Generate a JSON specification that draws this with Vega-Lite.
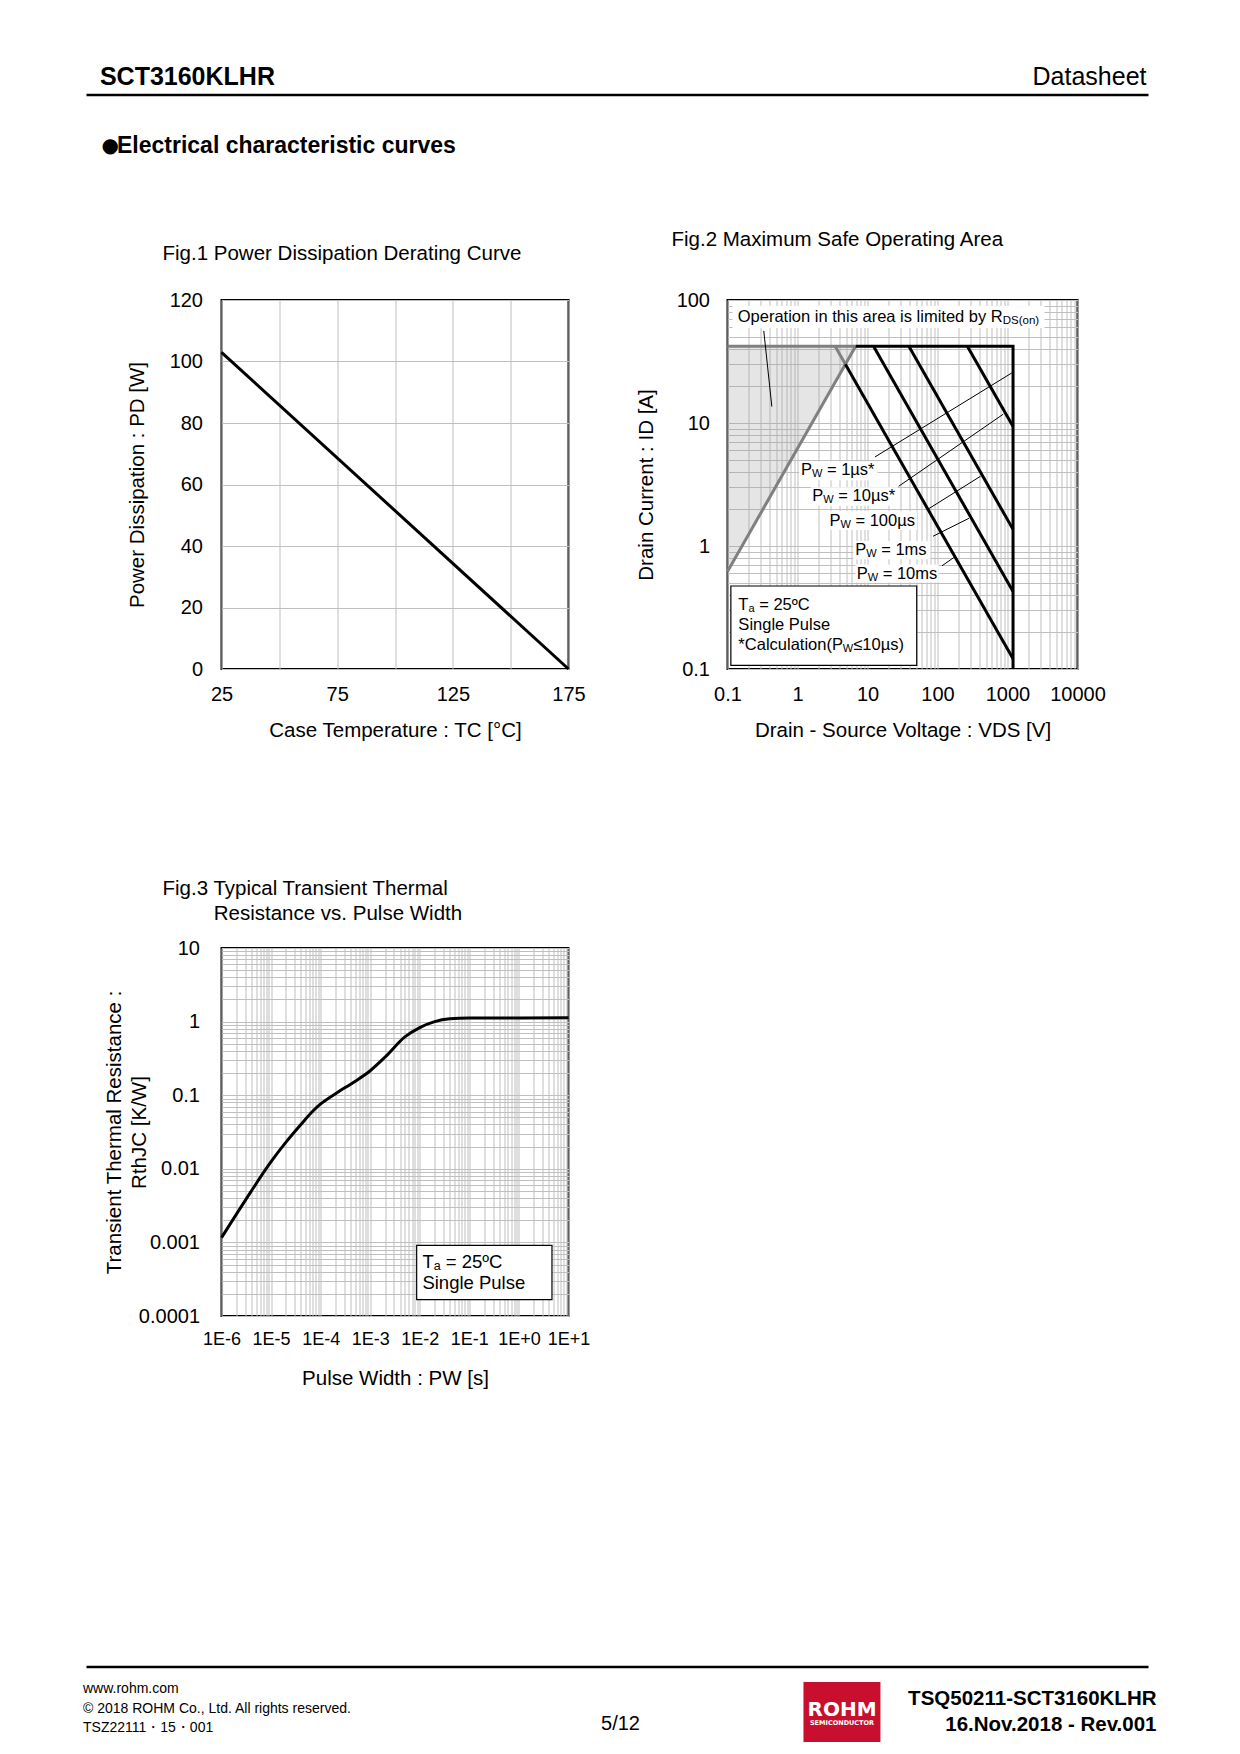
{
  "$schema": "https://vega.github.io/schema/vega-lite/v6.json",
  "usermeta": {"embedOptions": {"actions": false}},
  "background": "white",
  "padding": {"left": 82.5, "top": 65, "right": 0, "bottom": 0},
  "config": {
    "font": "Liberation Sans",
    "view": {"stroke": null},
    "axis": {"ticks": false, "domain": false, "labelColor": "#000000", "titleColor": "#000000", "titleFontWeight": "normal", "labelFontSize": 20, "titleFontSize": 20.5, "gridColor": "#bfbfbf", "gridWidth": 1, "gridOpacity": 1, "labelOverlap": false, "labelFlush": false, "labelFont": "Liberation Sans", "titleFont": "Liberation Sans"},
    "title": {"fontWeight": "normal", "color": "#000000", "fontSize": 20.5, "anchor": "start", "frame": "group", "font": "Liberation Sans"},
    "text": {"font": "Liberation Sans", "color": "#000000"}
  },
  "datasets": {
    "soaText": [
      {"g": "O", "v": 0.14, "i": 72.6, "a": "Operation in this area is limited by R", "s": "DS(on)", "b": ""},
      {"g": "P", "v": 1.12, "i": 4.13, "a": "P", "s": "W", "b": "= 1µs*"},
      {"g": "P", "v": 1.63, "i": 2.54, "a": "P", "s": "W", "b": "= 10µs*"},
      {"g": "P", "v": 2.86, "i": 1.59, "a": "P", "s": "W", "b": "= 100µs"},
      {"g": "P", "v": 6.67, "i": 0.921, "a": "P", "s": "W", "b": "= 1ms"},
      {"g": "P", "v": 7.0, "i": 0.592, "a": "P", "s": "W", "b": "= 10ms"},
      {"g": "T", "v": 0.143, "i": 0.33, "a": "T", "s": "a", "b": "= 25ºC"},
      {"g": "-", "v": 0.143, "i": 0.23, "a": "Single Pulse", "s": "", "b": ""},
      {"g": "C", "v": 0.143, "i": 0.156, "a": "*Calculation(P", "s": "W", "b": "≤10µs)"}
    ],
    "fig3Text": [
      {"g": "T", "p": 0.0113, "r": 0.00055, "a": "T", "s": "a", "b": "= 25ºC"},
      {"g": "-", "p": 0.0113, "r": 0.00028, "a": "Single Pulse", "s": "", "b": ""}
    ]
  },
  "spacing": 0,
  "bounds": "full",
  "vconcat": [
    {
      "width": 1062, "height": 133.5,
      "data": {"values": [
        {"item": "part", "label": "SCT3160KLHR"},
        {"item": "doc", "label": "Datasheet"},
        {"item": "bullet", "label": "●"},
        {"item": "section", "label": "Electrical characteristic curves"}
      ]},
      "layer": [
        {"data": {"values": [{"item": "header line"}]},
         "mark": {"type": "rule", "strokeWidth": 2.5, "color": "#000000"},
         "encoding": {"x": {"datum": 0, "scale": {"domain": [0, 1]}, "axis": null}, "x2": {"datum": 1}, "y": {"datum": 1, "scale": {"domain": [0, 1]}, "axis": null}}},
        {"transform": [{"filter": "datum.item === 'part'"}],
         "mark": {"type": "text", "align": "left", "baseline": "alphabetic", "dx": 13.4, "dy": -10, "fontSize": 25, "fontWeight": "bold"},
         "encoding": {"x": {"datum": 0, "axis": null}, "y": {"datum": 1, "axis": null}, "text": {"field": "label"}}},
        {"transform": [{"filter": "datum.item === 'doc'"}],
         "mark": {"type": "text", "align": "right", "baseline": "alphabetic", "dx": -2, "dy": -10, "fontSize": 25},
         "encoding": {"x": {"datum": 1, "axis": null}, "y": {"datum": 1, "axis": null}, "text": {"field": "label"}}},
        {"transform": [{"filter": "datum.item === 'bullet'"}],
         "mark": {"type": "text", "align": "left", "baseline": "alphabetic", "dx": 15, "dy": 57, "fontSize": 20, "font": "DejaVu Sans"},
         "encoding": {"x": {"datum": 0, "axis": null}, "y": {"datum": 1, "axis": null}, "text": {"field": "label"}}},
        {"transform": [{"filter": "datum.item === 'section'"}],
         "mark": {"type": "text", "align": "left", "baseline": "alphabetic", "dx": 30.5, "dy": 58, "fontSize": 23, "fontWeight": "bold"},
         "encoding": {"x": {"datum": 0, "axis": null}, "y": {"datum": 1, "axis": null}, "text": {"field": "label"}}}
      ]
    },
    {
      "spacing": 0,
      "bounds": "flush",
      "hconcat": [
        {"width": 135, "height": 1016, "data": {"values": []}, "mark": "point"},
        {
          "columns": 2,
          "spacing": {"row": 279, "column": 159},
          "bounds": "flush",
          "concat": [
            {
              "width": 347, "height": 369,
              "view": {"stroke": "#000000", "strokeWidth": 2},
              "title": {"text": "Fig.1 Power Dissipation Derating Curve", "dx": -59, "offset": 25.5},
              "data": {"values": [{"tc": 25, "pd": 103}, {"tc": 175, "pd": 0}]},
              "mark": {"type": "line", "color": "#000000", "strokeWidth": 3},
              "encoding": {
                "x": {"field": "tc", "type": "quantitative", "scale": {"domain": [25, 175], "nice": false, "zero": false},
                      "axis": {"values": [25, 50, 75, 100, 125, 150, 175], "labelExpr": "datum.value % 50 == 25 ? datum.label : ''", "title": "Case Temperature : TC [°C]", "labelPadding": 15, "titlePadding": 16}},
                "y": {"field": "pd", "type": "quantitative", "scale": {"domain": [0, 120], "nice": false},
                      "axis": {"values": [0, 20, 40, 60, 80, 100, 120], "title": "Power Dissipation : PD [W]", "labelPadding": 19, "titlePadding": 21.4}}
              }
            },
            {
              "width": 350, "height": 369,
              "view": {"stroke": "#000000", "strokeWidth": 2},
              "title": {"text": "Fig.2 Maximum Safe Operating Area", "dx": -56, "offset": 39.5},
              "encoding": {
                "x": {"field": "v", "type": "quantitative", "scale": {"type": "log", "domain": [0.1, 10000], "nice": false},
                      "axis": {"values": [0.1,0.2,0.3,0.4,0.5,0.6,0.7,0.8,0.9,1,2,3,4,5,6,7,8,9,10,20,30,40,50,60,70,80,90,100,200,300,400,500,600,700,800,900,1000,2000,3000,4000,5000,6000,7000,8000,9000,10000],
                               "format": "~g", "labelExpr": "abs(log(datum.value)/LN10 - round(log(datum.value)/LN10)) < 0.001 ? datum.label : ''",
                               "title": "Drain - Source Voltage : VDS [V]", "labelPadding": 15, "titlePadding": 16}},
                "y": {"field": "i", "type": "quantitative", "scale": {"type": "log", "domain": [0.1, 100], "nice": false},
                      "axis": {"values": [0.1,0.2,0.3,0.4,0.5,0.6,0.7,0.8,0.9,1,2,3,4,5,6,7,8,9,10,20,30,40,50,60,70,80,90,100],
                               "format": "~g", "labelExpr": "abs(log(datum.value)/LN10 - round(log(datum.value)/LN10)) < 0.001 ? datum.label : ''",
                               "title": "Drain Current : ID [A]", "labelPadding": 18, "titlePadding": 19.4}}
              },
              "layer": [
                {"data": {"values": [{"v": 0.1, "i": 0.62, "i2": 42}, {"v": 6.77, "i": 42, "i2": 42}]},
                 "mark": {"type": "area", "color": "#999999", "opacity": 0.25},
                 "encoding": {"y2": {"field": "i2"}}},
                {"data": {"values": [
                  {"box": "RDS(on) note", "v": 0.118, "v2": 3380, "i": 59.2, "i2": 89.4},
                  {"box": "1us", "v": 1.06, "v2": 13.9, "i": 3.43, "i2": 4.87},
                  {"box": "10us", "v": 1.55, "v2": 27, "i": 2.12, "i2": 3.0},
                  {"box": "100us", "v": 2.71, "v2": 51, "i": 1.35, "i2": 1.92},
                  {"box": "1ms", "v": 6.3, "v2": 79, "i": 0.78, "i2": 1.10},
                  {"box": "10ms", "v": 6.7, "v2": 104, "i": 0.506, "i2": 0.706}
                 ]},
                 "mark": {"type": "rect", "color": "#ffffff"},
                 "encoding": {"x2": {"field": "v2"}, "y2": {"field": "i2"}}},
                {"data": {"values": [{"box": "conditions", "v": 0.1117, "v2": 50.5, "i": 0.107, "i2": 0.473}]},
                 "mark": {"type": "rect", "fill": "#ffffff", "stroke": "#000000", "strokeWidth": 1.2},
                 "encoding": {"x2": {"field": "v2"}, "y2": {"field": "i2"}}},
                {"data": {"values": [
                  {"seg": "RDS(on) line", "kind": "RDS(on) limit", "k": 0, "v": 0.1, "i": 0.62},
                  {"seg": "RDS(on) line", "kind": "RDS(on) limit", "k": 1, "v": 6.77, "i": 42},
                  {"seg": "ID limit (RDS)", "kind": "RDS(on) limit", "k": 0, "v": 0.1, "i": 42},
                  {"seg": "ID limit (RDS)", "kind": "RDS(on) limit", "k": 1, "v": 6.77, "i": 42},
                  {"seg": "10ms (RDS)", "kind": "RDS(on) limit", "k": 0, "v": 3.45, "i": 42},
                  {"seg": "10ms (RDS)", "kind": "RDS(on) limit", "k": 1, "v": 4.83, "i": 30.0},
                  {"seg": "1us", "kind": "Pw limit", "k": 0, "v": 6.77, "i": 42},
                  {"seg": "1us", "kind": "Pw limit", "k": 1, "v": 1200, "i": 42},
                  {"seg": "1us", "kind": "Pw limit", "k": 2, "v": 1200, "i": 0.1},
                  {"seg": "10us", "kind": "Pw limit", "k": 0, "v": 267, "i": 42},
                  {"seg": "10us", "kind": "Pw limit", "k": 1, "v": 1200, "i": 9.35},
                  {"seg": "100us", "kind": "Pw limit", "k": 0, "v": 39, "i": 42},
                  {"seg": "100us", "kind": "Pw limit", "k": 1, "v": 1200, "i": 1.365},
                  {"seg": "1ms", "kind": "Pw limit", "k": 0, "v": 12.2, "i": 42},
                  {"seg": "1ms", "kind": "Pw limit", "k": 1, "v": 1200, "i": 0.427},
                  {"seg": "10ms", "kind": "Pw limit", "k": 0, "v": 4.83, "i": 30.0},
                  {"seg": "10ms", "kind": "Pw limit", "k": 1, "v": 1200, "i": 0.121}
                 ]},
                 "mark": {"type": "line", "strokeWidth": 3},
                 "encoding": {
                   "color": {"field": "kind", "type": "nominal", "scale": {"domain": ["Pw limit", "RDS(on) limit"], "range": ["#000000", "#808080"]}, "legend": null},
                   "detail": {"field": "seg"},
                   "order": {"field": "k", "type": "quantitative"}
                 }},
                {"data": {"values": [
                  {"lead": "RDS(on)", "v": 0.33, "v2": 0.43, "i": 56, "i2": 13.6},
                  {"lead": "1us", "v": 12.8, "v2": 1150, "i": 5.3, "i2": 25.5},
                  {"lead": "10us", "v": 27.9, "v2": 871, "i": 3.06, "i2": 11.8},
                  {"lead": "100us", "v": 75, "v2": 412, "i": 2.01, "i2": 3.69},
                  {"lead": "1ms", "v": 86.5, "v2": 281, "i": 1.2, "i2": 1.68},
                  {"lead": "10ms", "v": 116, "v2": 171, "i": 0.69, "i2": 0.806}
                 ]},
                 "mark": {"type": "rule", "color": "#000000", "strokeWidth": 1},
                 "encoding": {"x2": {"field": "v2"}, "y2": {"field": "i2"}}},
                {"data": {"name": "soaText"},
                 "mark": {"type": "text", "align": "left", "baseline": "middle", "fontSize": 16.5},
                 "encoding": {"text": {"field": "a"}}},
                {"data": {"name": "soaText"}, "transform": [{"filter": "datum.g === 'P'"}],
                 "mark": {"type": "text", "align": "left", "baseline": "middle", "fontSize": 11, "dx": 11, "dy": 4},
                 "encoding": {"text": {"field": "s"}}},
                {"data": {"name": "soaText"}, "transform": [{"filter": "datum.g === 'P'"}],
                 "mark": {"type": "text", "align": "left", "baseline": "middle", "fontSize": 16.5, "dx": 26},
                 "encoding": {"text": {"field": "b"}}},
                {"data": {"name": "soaText"}, "transform": [{"filter": "datum.g === 'T'"}],
                 "mark": {"type": "text", "align": "left", "baseline": "middle", "fontSize": 11, "dx": 10.1, "dy": 4},
                 "encoding": {"text": {"field": "s"}}},
                {"data": {"name": "soaText"}, "transform": [{"filter": "datum.g === 'T'"}],
                 "mark": {"type": "text", "align": "left", "baseline": "middle", "fontSize": 16.5, "dx": 20.8},
                 "encoding": {"text": {"field": "b"}}},
                {"data": {"name": "soaText"}, "transform": [{"filter": "datum.g === 'C'"}],
                 "mark": {"type": "text", "align": "left", "baseline": "middle", "fontSize": 11, "dx": 104.5, "dy": 4},
                 "encoding": {"text": {"field": "s"}}},
                {"data": {"name": "soaText"}, "transform": [{"filter": "datum.g === 'C'"}],
                 "mark": {"type": "text", "align": "left", "baseline": "middle", "fontSize": 16.5, "dx": 114.9},
                 "encoding": {"text": {"field": "b"}}},
                {"data": {"name": "soaText"}, "transform": [{"filter": "datum.g === 'O'"}],
                 "mark": {"type": "text", "align": "left", "baseline": "middle", "fontSize": 11.5, "dx": 265, "dy": 4},
                 "encoding": {"text": {"field": "s"}}}
              ]
            },
            {
              "width": 347, "height": 368,
              "view": {"stroke": "#000000", "strokeWidth": 2},
              "title": {"text": ["Fig.3 Typical Transient Thermal", "\u200b\u00a0\u00a0\u00a0\u00a0\u00a0\u00a0\u00a0\u00a0\u00a0Resistance vs. Pulse Width"], "dx": -59, "offset": 13.3, "lineHeight": 25},
              "encoding": {
                "x": {"field": "p", "type": "quantitative", "scale": {"type": "log", "domain": [1e-6, 10], "nice": false},
                      "axis": {"values": [1e-6,2e-6,3e-6,4e-6,5e-6,6e-6,7e-6,8e-6,9e-6,1e-5,2e-5,3e-5,4e-5,5e-5,6e-5,7e-5,8e-5,9e-5,0.0001,0.0002,0.0003,0.0004,0.0005,0.0006,0.0007,0.0008,0.0009,0.001,0.002,0.003,0.004,0.005,0.006,0.007,0.008,0.009,0.01,0.02,0.03,0.04,0.05,0.06,0.07,0.08,0.09,0.1,0.2,0.3,0.4,0.5,0.6,0.7,0.8,0.9,1,2,3,4,5,6,7,8,9,10],
                               "labelExpr": "abs(log(datum.value)/LN10 - round(log(datum.value)/LN10)) < 0.001 ? '1E' + (round(log(datum.value)/LN10) < 0 ? '-' : '+') + abs(round(log(datum.value)/LN10)) : ''",
                               "labelFontSize": 18, "title": "Pulse Width : PW [s]", "labelPadding": 14, "titlePadding": 20}},
                "y": {"field": "r", "type": "quantitative", "scale": {"type": "log", "domain": [0.0001, 10], "nice": false},
                      "axis": {"values": [0.0001,0.0002,0.0003,0.0004,0.0005,0.0006,0.0007,0.0008,0.0009,0.001,0.002,0.003,0.004,0.005,0.006,0.007,0.008,0.009,0.01,0.02,0.03,0.04,0.05,0.06,0.07,0.08,0.09,0.1,0.2,0.3,0.4,0.5,0.6,0.7,0.8,0.9,1,2,3,4,5,6,7,8,9,10],
                               "format": "~g", "labelExpr": "abs(log(datum.value)/LN10 - round(log(datum.value)/LN10)) < 0.001 ? datum.label : ''",
                               "title": ["Transient Thermal Resistance :", "RthJC [K/W]"], "titleLineHeight": 25, "labelPadding": 22, "titlePadding": -11}}
              },
              "layer": [
                {"data": {"values": [{"box": "conditions", "p": 0.00865, "p2": 4.64, "r": 0.000167, "r2": 0.00091}]},
                 "mark": {"type": "rect", "fill": "#ffffff", "stroke": "#000000", "strokeWidth": 1.2},
                 "encoding": {"x2": {"field": "p2"}, "y2": {"field": "r2"}}},
                {"data": {"values": [
                  {"p": 1e-6, "r": 0.00116}, {"p": 3e-6, "r": 0.0037}, {"p": 1e-5, "r": 0.0125},
                  {"p": 2e-5, "r": 0.023}, {"p": 4e-5, "r": 0.04}, {"p": 7e-5, "r": 0.061},
                  {"p": 1e-4, "r": 0.076}, {"p": 2e-4, "r": 0.105}, {"p": 5e-4, "r": 0.155},
                  {"p": 1e-3, "r": 0.215}, {"p": 2e-3, "r": 0.33}, {"p": 5e-3, "r": 0.62},
                  {"p": 1e-2, "r": 0.83}, {"p": 2e-2, "r": 1.0}, {"p": 4e-2, "r": 1.09},
                  {"p": 1e-1, "r": 1.12}, {"p": 10, "r": 1.125}
                 ]},
                 "mark": {"type": "line", "color": "#000000", "strokeWidth": 3, "interpolate": "monotone"}},
                {"data": {"name": "fig3Text"},
                 "mark": {"type": "text", "align": "left", "baseline": "middle", "fontSize": 18.5},
                 "encoding": {"text": {"field": "a"}}},
                {"data": {"name": "fig3Text"}, "transform": [{"filter": "datum.g === 'T'"}],
                 "mark": {"type": "text", "align": "left", "baseline": "middle", "fontSize": 12.5, "dx": 11.3, "dy": 4.5},
                 "encoding": {"text": {"field": "s"}}},
                {"data": {"name": "fig3Text"}, "transform": [{"filter": "datum.g === 'T'"}],
                 "mark": {"type": "text", "align": "left", "baseline": "middle", "fontSize": 18.5, "dx": 23.4},
                 "encoding": {"text": {"field": "b"}}}
              ]
            }
          ]
        }
      ]
    },
    {"width": 1062, "height": 275, "data": {"values": []}, "mark": "point"},
    {
      "width": 1062, "height": 80,
      "data": {"values": [
        {"item": "url", "label": "www.rohm.com"},
        {"item": "copyright", "label": "© 2018 ROHM Co., Ltd. All rights reserved."},
        {"item": "code", "label": "TSZ22111・15・001"},
        {"item": "page", "label": "5/12"},
        {"item": "docno", "label": "TSQ50211-SCT3160KLHR"},
        {"item": "date", "label": "16.Nov.2018 - Rev.001"},
        {"item": "logo", "label": "ROHM"},
        {"item": "logosub", "label": "SEMICONDUCTOR"}
      ]},
      "layer": [
        {"data": {"values": [{"item": "footer line"}]},
         "mark": {"type": "rule", "strokeWidth": 2.5, "color": "#000000"},
         "encoding": {"x": {"datum": 0, "scale": {"domain": [0, 1]}, "axis": null}, "x2": {"datum": 1}, "y": {"datum": 1, "scale": {"domain": [0, 1]}, "axis": null}}},
        {"transform": [{"filter": "datum.item === 'logo'"}],
         "mark": {"type": "rect", "color": "#c8102e"},
         "encoding": {"x": {"datum": 0.6751, "axis": null}, "x2": {"datum": 0.7476}, "y": {"datum": 0.8125, "axis": null}, "y2": {"datum": 0.0625}}},
        {"transform": [{"filter": "datum.item === 'url'"}],
         "mark": {"type": "text", "align": "left", "baseline": "alphabetic", "dx": -3.5, "dy": 26, "fontSize": 14},
         "encoding": {"x": {"datum": 0, "axis": null}, "y": {"datum": 1, "axis": null}, "text": {"field": "label"}}},
        {"transform": [{"filter": "datum.item === 'copyright'"}],
         "mark": {"type": "text", "align": "left", "baseline": "alphabetic", "dx": -3.5, "dy": 46, "fontSize": 14},
         "encoding": {"x": {"datum": 0, "axis": null}, "y": {"datum": 1, "axis": null}, "text": {"field": "label"}}},
        {"transform": [{"filter": "datum.item === 'code'"}],
         "mark": {"type": "text", "align": "left", "baseline": "alphabetic", "dx": -3.5, "dy": 65, "fontSize": 14},
         "encoding": {"x": {"datum": 0, "axis": null}, "y": {"datum": 1, "axis": null}, "text": {"field": "label"}}},
        {"transform": [{"filter": "datum.item === 'page'"}],
         "mark": {"type": "text", "align": "center", "baseline": "alphabetic", "dy": 63, "fontSize": 20},
         "encoding": {"x": {"datum": 0.5028, "axis": null}, "y": {"datum": 1, "axis": null}, "text": {"field": "label"}}},
        {"transform": [{"filter": "datum.item === 'docno'"}],
         "mark": {"type": "text", "align": "right", "baseline": "alphabetic", "dx": 8, "dy": 37.5, "fontSize": 20.5, "fontWeight": "bold"},
         "encoding": {"x": {"datum": 1, "axis": null}, "y": {"datum": 1, "axis": null}, "text": {"field": "label"}}},
        {"transform": [{"filter": "datum.item === 'date'"}],
         "mark": {"type": "text", "align": "right", "baseline": "alphabetic", "dx": 8, "dy": 63.5, "fontSize": 20.5, "fontWeight": "bold"},
         "encoding": {"x": {"datum": 1, "axis": null}, "y": {"datum": 1, "axis": null}, "text": {"field": "label"}}},
        {"transform": [{"filter": "datum.item === 'logo'"}],
         "mark": {"type": "text", "align": "center", "baseline": "alphabetic", "dy": 49, "fontSize": 20, "fontWeight": "bold", "font": "DejaVu Sans", "color": "#ffffff"},
         "encoding": {"x": {"datum": 0.7114, "axis": null}, "y": {"datum": 1, "axis": null}, "text": {"field": "label"}}},
        {"transform": [{"filter": "datum.item === 'logosub'"}],
         "mark": {"type": "text", "align": "center", "baseline": "alphabetic", "dy": 57.5, "fontSize": 6.5, "fontWeight": "bold", "font": "DejaVu Sans", "color": "#ffffff"},
         "encoding": {"x": {"datum": 0.7114, "axis": null}, "y": {"datum": 1, "axis": null}, "text": {"field": "label"}}}
      ]
    }
  ]
}
